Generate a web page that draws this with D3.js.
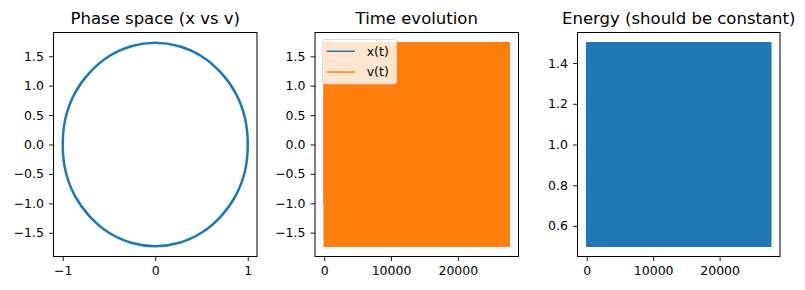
<!DOCTYPE html>
<html>
<head>
<meta charset="utf-8">
<script src="https://cdn.jsdelivr.net/npm/d3@7"></script>
<style>
  body { margin: 0; background: #fff; }
  svg { font-family: "DejaVu Sans", sans-serif; }
  .tick text { font-size: 12.5px; fill: #000; }
  .tick line { stroke: #000; stroke-width: 0.9; }
  .title { font-size: 16.5px; fill: #000; }
</style>
</head>
<body>
<div id="chart"></div>
<script>
// phase space samples (x, v) read from the ellipse
var phaseX = [1, 0.97, 0.87, 0.71, 0.5, 0.26, 0, -0.26, -0.5, -0.71, -0.87, -0.97,
              -1, -0.97, -0.87, -0.71, -0.5, -0.26, 0, 0.26, 0.5, 0.71, 0.87, 0.97];
var phaseV = [0, 0.45, 0.87, 1.22, 1.50, 1.67, 1.73, 1.67, 1.50, 1.22, 0.87, 0.45,
              0, -0.45, -0.87, -1.22, -1.50, -1.67, -1.73, -1.67, -1.50, -1.22, -0.87, -0.45];

// time series envelopes (the oscillation is so dense it fills a band)
var steps = [0, 27700];
var xUpper = [1, 1];
var xLower = [-1, -1];
var vUpper = [1.732, 1.732];
var vLower = [-1.732, -1.732];
var energyUpper = [1.5, 1.5];
var energyLower = [0.5, 0.5];

// tick labels
var phaseXTicks = [-1, 0, 1];
var ampTicks = [-1.5, -1.0, -0.5, 0.0, 0.5, 1.0, 1.5];
var stepTicks = [0, 10000, 20000];
var energyTicks = [0.6, 0.8, 1.0, 1.2, 1.4];

var titles = ["Phase space (x vs v)", "Time evolution", "Energy (should be constant)"];
var legendNames = ["x(t)", "v(t)"];

var blue = "#1f77b4", orange = "#ff7f0e";
var w = 805, h = 290;
var axTop = 32.5, axBottom = 256.5;
var panels = [[53.5, 257], [315, 518.5], [577.5, 780]];

var svg = d3.select("#chart").append("svg")
  .attr("width", w)
  .attr("height", h);

function pad(lo, hi) {
  var m = (hi - lo) * 0.05;
  return [lo - m, hi + m];
}

function drawAxes(g, xScale, yScale, xTicks, yTicks, xFmt, yFmt, p, title) {
  g.append("g")
    .attr("transform", "translate(0," + axBottom + ")")
    .call(d3.axisBottom(xScale).tickValues(xTicks).tickFormat(xFmt).tickSize(4.5).tickPadding(5.2).tickSizeOuter(0))
    .call(function(a) { a.select(".domain").remove(); a.attr("font-family", null).attr("font-size", null); });
  g.append("g")
    .attr("transform", "translate(" + p[0] + ",0)")
    .call(d3.axisLeft(yScale).tickValues(yTicks).tickFormat(yFmt).tickSize(4.5).tickPadding(5).tickSizeOuter(0))
    .call(function(a) { a.select(".domain").remove(); a.attr("font-family", null).attr("font-size", null); });
  g.append("rect")
    .attr("x", p[0]).attr("y", axTop)
    .attr("width", p[1] - p[0]).attr("height", axBottom - axTop)
    .attr("fill", "none").attr("stroke", "#000").attr("stroke-width", 1);
  g.append("text")
    .attr("class", "title")
    .attr("x", (p[0] + p[1]) / 2)
    .attr("y", 24)
    .attr("text-anchor", "middle")
    .text(title);
}

var fmt1 = d3.format(".1f");
var fmtInt = d3.format("d");

function band(g, xs, ys, lower, upper, color) {
  var rows = steps.map(function(s, i) { return {t: s, lo: lower[i], hi: upper[i]}; });
  g.append("path")
    .datum(rows)
    .attr("d", d3.area()
      .x(function(d) { return xs(d.t); })
      .y0(function(d) { return ys(d.lo); })
      .y1(function(d) { return ys(d.hi); }))
    .attr("fill", color)
    .attr("stroke", color)
    .attr("stroke-width", 1.5)
    .attr("stroke-linejoin", "round");
}

// ---- Panel 1: phase space
var p1 = panels[0];
var x1 = d3.scaleLinear().domain([-1.1, 1.1]).range([p1[0], p1[1]]);
var y1 = d3.scaleLinear().domain(pad(d3.min(phaseV), d3.max(phaseV))).range([axBottom, axTop]);
var g1 = svg.append("g");
var phasePts = phaseX.map(function(d, i) { return [d, phaseV[i]]; });
g1.append("path")
  .datum(phasePts)
  .attr("d", d3.line()
    .x(function(d) { return x1(d[0]); })
    .y(function(d) { return y1(d[1]); })
    .curve(d3.curveCatmullRomClosed))
  .attr("fill", "none")
  .attr("stroke", blue)
  .attr("stroke-width", 2.5);
drawAxes(g1, x1, y1, phaseXTicks, ampTicks, fmtInt, fmt1, p1, titles[0]);

// ---- Panel 2: time evolution
var p2 = panels[1];
var x2 = d3.scaleLinear().domain(pad(steps[0], steps[steps.length - 1])).range([p2[0], p2[1]]);
var y2 = d3.scaleLinear().domain(pad(d3.min(vLower), d3.max(vUpper))).range([axBottom, axTop]);
var g2 = svg.append("g");
band(g2, x2, y2, xLower, xUpper, blue);
band(g2, x2, y2, vLower, vUpper, orange);
drawAxes(g2, x2, y2, stepTicks, ampTicks, fmtInt, fmt1, p2, titles[1]);

// legend
var lg = g2.append("g").attr("transform", "translate(322.7,39.3)");
lg.append("rect")
  .attr("width", 74).attr("height", 44.7)
  .attr("rx", 2.5)
  .attr("fill", "#fff").attr("fill-opacity", 0.8)
  .attr("stroke", "#ccc").attr("stroke-opacity", 0.8).attr("stroke-width", 1);
legendNames.forEach(function(name, i) {
  var yy = 12 + i * 20.7;
  lg.append("line")
    .attr("x1", 4).attr("x2", 32.3)
    .attr("y1", yy).attr("y2", yy)
    .attr("stroke", i === 0 ? blue : orange)
    .attr("stroke-width", 1.5);
  lg.append("text")
    .attr("x", 44)
    .attr("y", yy + 4.4)
    .attr("font-size", "12.5px")
    .text(name);
});

// ---- Panel 3: energy
var p3 = panels[2];
var x3 = d3.scaleLinear().domain(pad(steps[0], steps[steps.length - 1])).range([p3[0], p3[1]]);
var y3 = d3.scaleLinear().domain(pad(d3.min(energyLower), d3.max(energyUpper))).range([axBottom, axTop]);
var g3 = svg.append("g");
band(g3, x3, y3, energyLower, energyUpper, blue);
drawAxes(g3, x3, y3, stepTicks, energyTicks, fmtInt, fmt1, p3, titles[2]);
</script>
</body>
</html>
